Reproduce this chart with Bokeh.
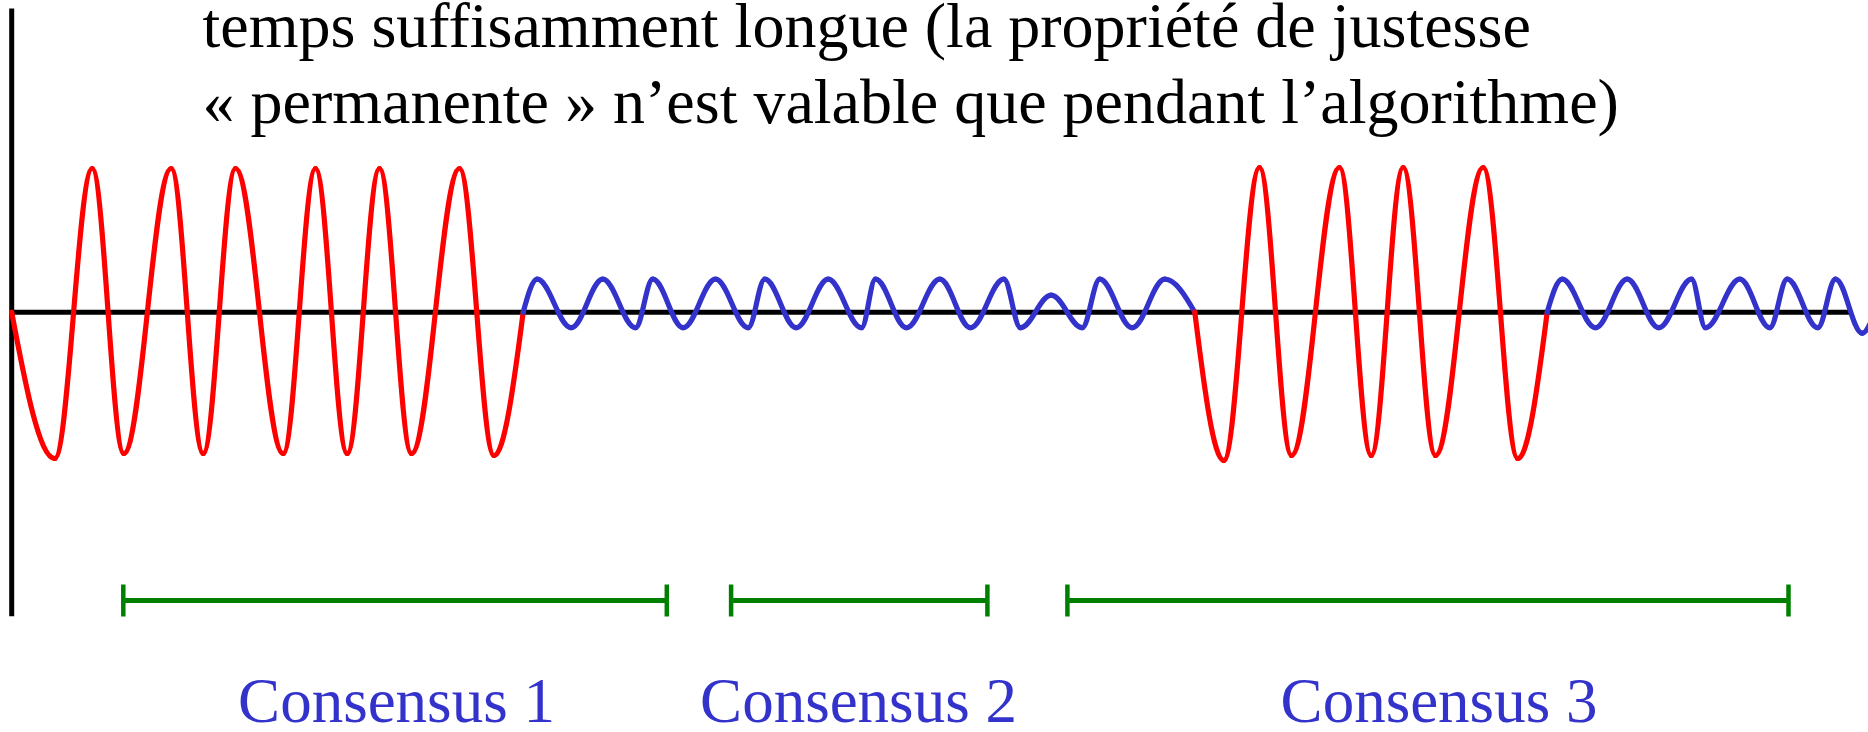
from bokeh.plotting import figure
from bokeh.models import Range1d, ColumnDataSource
from bokeh.embed import file_html
from bokeh.resources import INLINE
from bokeh.core.properties import value

# ---------------- data (x: time, y: signal; axis at y = 0) ----------------
title_lines = ["temps suffisamment longue (la propriété de justesse",
               "« permanente » n’est valable que pendant l’algorithme)"]
title_x = [190.8, 190.8]
title_y = [286.7, 210.7]

# extrema / zero crossings of the red (disturbed) phases
red1_x = [0.0, 43.1, 80.5, 112.1, 159.5, 191.5, 223.8, 271.5, 303.8, 335.5, 367.8, 399.8, 447.8, 482.3, 511.5]
red1_y = [0.0, -146.3, 143.7, -141.3, 143.7, -141.3, 143.7, -141.3, 143.7, -141.3, 143.7, -141.3, 143.7, -143.3, 0.0]

red2_x = [1183.1, 1212.1, 1247.8, 1279.8, 1327.8, 1359.5, 1391.5, 1423.8, 1471.5, 1506.1, 1535.5]
red2_y = [0.0, -148.3, 144.7, -143.3, 144.7, -143.3, 144.7, -143.3, 144.7, -146.3, 0.0]

# extrema / zero crossings of the blue (stable) phases
blue1_x = [511.5, 525.5, 559.5, 591.1, 623.8, 641.1, 671.5, 703.8, 736.5, 753.1, 784.5, 816.5,
           849.8, 863.8, 894.8, 928.1, 958.8, 992.1, 1008.8, 1039.5, 1070.5, 1088.1, 1120.5, 1153.1, 1183.1]
blue1_y = [0.0, 33, -15.5, 33, -15.5, 33, -15.5, 33, -15.5, 33, -15.5, 33,
           -15.5, 33, -15.5, 33, -15.5, 33, -15.5, 17, -15.5, 33, -15.5, 33, 0.0]

blue2_x = [1535.5, 1550.5, 1583.8, 1615.5, 1647.1, 1679.8, 1693.8, 1728.1, 1758.1, 1775.5, 1806.1, 1823.8, 1850.5, 1860.0]
blue2_y = [0.0, 33, -15.5, 33, -15.5, 33, -15.5, 33, -15.5, 33, -15.5, 33, -21.0, -8.0]

# consensus intervals
cons_start = [111.6, 719.4, 1055.7]
cons_end = [655.1, 975.7, 1776.8]
cons_level = -288.3
cons_labels = ["Consensus 1", "Consensus 2", "Consensus 3"]
cons_label_x = [384.8, 846.8, 1427.3]
cons_label_y = [-389.0, -389.0, -389.0]

# axes of the diagram
axis_x_end = 1838.8
axis_y_bottom = -304.0
axis_y_top = 303.7

# ---------------- styles ----------------
RED = "#ff0000"
BLUE = "#3333cc"
GREEN = "#008000"
BLACK = "#000000"
SERIF = value("Liberation Serif")
TICK_HALF = 16.0


def bezier_source(xs, ys):
    """Build cubic Bezier segments passing through the given extrema/zero points."""
    d = dict(x0=[], y0=[], x1=[], y1=[], cx0=[], cy0=[], cx1=[], cy1=[])
    for i in range(len(xs) - 1):
        x0, y0, x1, y1 = xs[i], ys[i], xs[i + 1], ys[i + 1]
        dx, dy = x1 - x0, y1 - y0
        if y0 == 0:
            c0 = (x0 + 0.326 * dx, y0 + 0.512 * dy)
            c1 = (x0 + 0.648 * dx, y1)
        elif i == len(xs) - 2 and y1 != 0:
            c0 = (x0 + 0.364 * dx, y0)
            c1 = (x1 - 0.326 * dx, y1 - 0.512 * dy)
        elif y1 == 0:
            c0 = (x1 - 0.648 * dx, y0)
            c1 = (x1 - 0.326 * dx, y1 - 0.512 * dy)
        else:
            c0 = (x0 + 0.364 * dx, y0)
            c1 = (x1 - 0.364 * dx, y1)
        d["x0"].append(x0); d["y0"].append(y0)
        d["x1"].append(x1); d["y1"].append(y1)
        d["cx0"].append(c0[0]); d["cy0"].append(c0[1])
        d["cx1"].append(c1[0]); d["cy1"].append(c1[1])
    return ColumnDataSource(d)


p = figure(width=1868, height=732,
           x_range=Range1d(-11.2, 1856.8), y_range=Range1d(-420.3, 311.7),
           output_backend="svg", toolbar_location=None,
           x_axis_location=None, y_axis_location=None, min_border=0)
p.outline_line_color = None
p.xgrid.visible = False
p.ygrid.visible = False
p.background_fill_color = "white"
p.border_fill_color = "white"

# diagram axes
p.segment(x0=[0, 0], y0=[0, axis_y_bottom], x1=[axis_x_end, 0], y1=[0, axis_y_top],
          line_color=BLACK, line_width=5)

# signal
for xs, ys, col in [(red1_x, red1_y, RED), (blue1_x, blue1_y, BLUE),
                    (red2_x, red2_y, RED), (blue2_x, blue2_y, BLUE)]:
    p.bezier(x0="x0", y0="y0", x1="x1", y1="y1", cx0="cx0", cy0="cy0", cx1="cx1", cy1="cy1",
             source=bezier_source(xs, ys), line_color=col, line_width=5.2, line_cap="round")

# consensus intervals
p.segment(x0=cons_start, y0=[cons_level] * 3, x1=cons_end, y1=[cons_level] * 3,
          line_color=GREEN, line_width=5)
ticks_x = cons_start + cons_end
p.segment(x0=ticks_x, y0=[cons_level - TICK_HALF] * len(ticks_x),
          x1=ticks_x, y1=[cons_level + TICK_HALF] * len(ticks_x),
          line_color=GREEN, line_width=4.5)

# texts
p.text(x="x", y="y", text="t",
       source=ColumnDataSource(dict(x=title_x, y=title_y, t=title_lines)),
       text_font=SERIF, text_font_size=value("64px"), text_color=BLACK,
       text_align="left", text_baseline="alphabetic")
p.text(x="x", y="y", text="t",
       source=ColumnDataSource(dict(x=cons_label_x, y=cons_label_y, t=cons_labels)),
       text_font=SERIF, text_font_size=value("63px"), text_color=BLUE,
       text_align="center", text_baseline="alphabetic")

open("out.html", "w").write(file_html(p, INLINE))
